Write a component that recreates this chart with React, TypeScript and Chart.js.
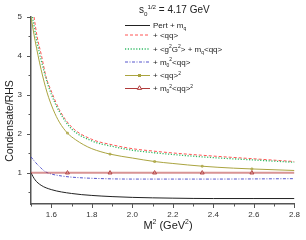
import React, { useEffect, useRef } from 'react';
import { Chart, registerables } from 'chart.js';
Chart.register(...registerables);

const FONT = '"Liberation Sans", Arial, sans-serif';

// M^2 (GeV^2) samples and Condensate/RHS values
const pertM2 = [1.5, 1.52, 1.55, 1.6, 1.7, 1.8, 1.9, 2.0, 2.2, 2.4, 2.6, 2.8];
const pertVals = [1.0, 0.82, 0.68, 0.57, 0.47, 0.42, 0.39, 0.37, 0.35, 0.34, 0.34, 0.34];

const qqM2 = [1.515, 1.53, 1.55, 1.575, 1.6, 1.64, 1.7, 1.8, 1.9, 2.0, 2.1, 2.2, 2.4, 2.6, 2.8];
const qqVals = [5.0, 4.5, 4.05, 3.45, 3.1, 2.62, 2.18, 1.86, 1.72, 1.62, 1.56, 1.51, 1.43, 1.36, 1.29];

const ggM2 = [1.507, 1.53, 1.57, 1.6, 1.64, 1.7, 1.8, 1.9, 2.0, 2.1, 2.2, 2.4, 2.6, 2.8];
const ggVals = [5.0, 4.35, 3.5, 3.02, 2.57, 2.13, 1.82, 1.68, 1.58, 1.52, 1.47, 1.39, 1.33, 1.27];

const m0qqM2 = [1.5, 1.52, 1.55, 1.57, 1.6, 1.65, 1.7, 1.8, 2.0, 2.4, 2.8];
const m0qqVals = [1.41, 1.28, 1.12, 1.03, 0.97, 0.92, 0.89, 0.86, 0.84, 0.84, 0.85];

const qq2M2 = [1.5, 1.52, 1.55, 1.58, 1.61, 1.64, 1.68, 1.72, 1.76, 1.8, 1.89, 2.0, 2.11, 2.2, 2.345, 2.5, 2.59, 2.8];
const qq2Vals = [5.0, 4.4, 3.65, 3.05, 2.62, 2.3, 2.02, 1.85, 1.72, 1.62, 1.48, 1.38, 1.29, 1.24, 1.17, 1.12, 1.1, 1.06];

const m0qq2M2 = [1.5, 1.68, 1.89, 2.11, 2.345, 2.59, 2.8];
const m0qq2Vals = [1.0, 1.0, 1.0, 1.0, 1.0, 1.0, 1.0];

const markerM2 = [1.68, 1.89, 2.11, 2.345, 2.59];

const xTickLabels = [1.6, 1.8, 2.0, 2.2, 2.4, 2.6, 2.8];
const yTickLabels = [1, 2, 3, 4, 5];

type Part = { t: string; k?: 'sub' | 'sup' };

const legendItems: { parts: Part[]; color: string; dash: number[]; width: number; marker?: 'rect' | 'tri' }[] = [
  { parts: [{ t: 'Pert + m' }, { t: 'q', k: 'sub' }], color: '#222', dash: [], width: 1 },
  { parts: [{ t: '+ <qq>' }], color: '#ff5555', dash: [3, 2], width: 1 },
  { parts: [{ t: '+ <g' }, { t: '2', k: 'sup' }, { t: 'G' }, { t: '2', k: 'sup' }, { t: '> + m' }, { t: 'q', k: 'sub' }, { t: '<qq>' }], color: '#33bb66', dash: [1.2, 1.6], width: 1.3 },
  { parts: [{ t: '+ m' }, { t: '0', k: 'sub' }, { t: '2', k: 'sup' }, { t: '<qq>' }], color: '#5555cc', dash: [3, 1.5, 1, 1.5], width: 1 },
  { parts: [{ t: '+ <qq>' }, { t: '2', k: 'sup' }], color: '#aaa440', dash: [], width: 1, marker: 'rect' },
  { parts: [{ t: '+ m' }, { t: '0', k: 'sub' }, { t: '2', k: 'sup' }, { t: '<qq>' }, { t: '2', k: 'sup' }], color: '#b03a3a', dash: [], width: 1, marker: 'tri' },
];
const legendRowsY = [25, 34.5, 48.5, 61.5, 75, 88];

function drawRich(ctx: CanvasRenderingContext2D, x: number, y: number, parts: Part[], size: number) {
  for (const p of parts) {
    const s = p.k ? size * 0.62 : size;
    const dy = p.k === 'sup' ? -size * 0.42 : p.k === 'sub' ? size * 0.28 : 0;
    ctx.font = `${s}px ${FONT}`;
    ctx.fillText(p.t, x, y + dy);
    x += ctx.measureText(p.t).width;
  }
  return x;
}
function richWidth(ctx: CanvasRenderingContext2D, parts: Part[], size: number) {
  let w = 0;
  for (const p of parts) {
    const s = p.k ? size * 0.62 : size;
    ctx.font = `${s}px ${FONT}`;
    w += ctx.measureText(p.t).width;
  }
  return w;
}

function drawTri(ctx: CanvasRenderingContext2D, x: number, y: number, r: number) {
  ctx.beginPath();
  ctx.moveTo(x, y - r);
  ctx.lineTo(x + r * 0.95, y + r * 0.6);
  ctx.lineTo(x - r * 0.95, y + r * 0.6);
  ctx.closePath();
  ctx.fill();
  ctx.stroke();
}

const decorPlugin = {
  id: 'decor',
  afterDraw(chart: any) {
    const ctx: CanvasRenderingContext2D = chart.ctx;
    const xs = chart.scales.x;
    const ys = chart.scales.y;
    const area = chart.chartArea;
    ctx.save();
    // ticks
    ctx.strokeStyle = '#555';
    ctx.lineWidth = 1;
    for (let i = 15; i <= 28; i++) {
      const v = i / 10;
      const px = Math.round(xs.getPixelForValue(v)) + 0.5;
      const len = i % 2 === 0 ? 4 : 2.5;
      ctx.beginPath();
      ctx.moveTo(px, area.bottom);
      ctx.lineTo(px, area.bottom + len);
      ctx.stroke();
    }
    for (let i = 1; i <= 10; i++) {
      const v = i / 2;
      const py = Math.round(ys.getPixelForValue(v)) + 0.5;
      const len = i % 2 === 0 ? 4 : 2.5;
      ctx.beginPath();
      ctx.moveTo(area.left, py);
      ctx.lineTo(area.left - len, py);
      ctx.stroke();
    }
    ctx.fillStyle = '#222';
    ctx.textBaseline = 'alphabetic';
    ctx.textAlign = 'left';
    // title
    drawRich(ctx, 139, 13, [{ t: 's' }, { t: '0', k: 'sub' }, { t: '1/2', k: 'sup' }, { t: ' = 4.17 GeV' }], 10);
    // x title
    const xt: Part[] = [{ t: 'M' }, { t: '2', k: 'sup' }, { t: ' (GeV' }, { t: '2', k: 'sup' }, { t: ')' }];
    const xw = richWidth(ctx, xt, 11);
    drawRich(ctx, 168 - xw / 2, 229, xt, 11);
    // y title
    ctx.save();
    ctx.translate(13, 121);
    ctx.rotate(-Math.PI / 2);
    ctx.font = `10.5px ${FONT}`;
    ctx.textAlign = 'center';
    ctx.fillText('Condensate/RHS', 0, 0);
    ctx.restore();
    // legend
    legendItems.forEach((it, i) => {
      const y = legendRowsY[i];
      ctx.save();
      ctx.strokeStyle = it.color;
      ctx.lineWidth = it.width;
      ctx.setLineDash(it.dash);
      ctx.beginPath();
      ctx.moveTo(125, y + 0.5);
      ctx.lineTo(150, y + 0.5);
      ctx.stroke();
      ctx.setLineDash([]);
      if (it.marker === 'rect') {
        ctx.strokeRect(138.5, y - 0.5, 2, 2);
      } else if (it.marker === 'tri') {
        ctx.fillStyle = '#fff';
        drawTri(ctx, 139.5, y, 2.3);
      }
      ctx.restore();
      ctx.fillStyle = '#222';
      drawRich(ctx, 153, y + 3, it.parts, 8);
    });
    ctx.restore();
  },
};

const pts = (xs: number[], ys: number[]) => xs.map((x, i) => ({ x, y: ys[i] }));

export default function App() {
  const ref = useRef<HTMLCanvasElement>(null);
  useEffect(() => {
    if (!ref.current) return;
    const isMarker = (c: any) => !!(c.raw && markerM2.includes(c.raw.x));
    const chart = new Chart(ref.current, {
      type: 'line',
      data: {
        datasets: [
          {
            label: '+ m0^2<qq>^2',
            data: pts(m0qq2M2, m0qq2Vals),
            borderColor: 'rgba(185,60,60,0.55)',
            borderWidth: 2,
            pointStyle: 'triangle',
            pointRadius: (c: any) => (isMarker(c) ? 2.3 : 0),
            pointBorderColor: '#b03a3a',
            pointBackgroundColor: 'rgba(255,255,255,0)',
            pointBorderWidth: 0.9,
          },
          {
            label: 'Pert + mq',
            data: pts(pertM2, pertVals),
            borderColor: '#222',
            borderWidth: 1,
            pointRadius: 0,
          },
          {
            label: '+ m0^2<qq>',
            data: pts(m0qqM2, m0qqVals),
            borderColor: '#5555cc',
            borderWidth: 1,
            borderDash: [3, 1.5, 1, 1.5],
            pointRadius: 0,
          },
          {
            label: '+ <qq>^2',
            data: pts(qq2M2, qq2Vals),
            borderColor: '#aaa440',
            borderWidth: 1,
            pointStyle: 'rect',
            pointRadius: (c: any) => (isMarker(c) ? 1.2 : 0),
            pointBorderColor: '#aaa440',
            pointBackgroundColor: 'rgba(255,255,255,0)',
            pointBorderWidth: 0.9,
          },
          {
            label: '+ <g2G2> + mq<qq>',
            data: pts(ggM2, ggVals),
            borderColor: '#33bb66',
            borderWidth: 1.3,
            borderDash: [1.2, 1.6],
            pointRadius: 0,
          },
          {
            label: '+ <qq>',
            data: pts(qqM2, qqVals),
            borderColor: '#ff5555',
            borderWidth: 1,
            borderDash: [3, 2],
            pointRadius: 0,
          },
        ],
      },
      options: {
        animation: false,
        responsive: false,
        maintainAspectRatio: false,
        layout: { padding: { top: 17, right: 8, left: 0, bottom: 0 } },
        elements: { line: { cubicInterpolationMode: 'monotone' } },
        plugins: { legend: { display: false }, tooltip: { enabled: false }, title: { display: false } },
        scales: {
          x: {
            type: 'linear',
            min: 1.5,
            max: 2.8,
            grid: { display: false, drawTicks: false },
            border: { display: true, color: '#555', width: 1.5 },
            afterBuildTicks: (s: any) => {
              s.ticks = xTickLabels.map((v) => ({ value: v }));
            },
            afterFit: (s: any) => {
              s.height = 36;
            },
            ticks: {
              padding: 6,
              maxRotation: 0,
              autoSkip: false,
              color: '#333',
              font: { size: 8, family: FONT },
              callback: (v: any) => Number(v).toFixed(1),
            },
          },
          y: {
            type: 'linear',
            min: 0.2,
            max: 5,
            grid: { display: false, drawTicks: false },
            border: { display: true, color: '#555', width: 1.5 },
            afterBuildTicks: (s: any) => {
              s.ticks = yTickLabels.map((v) => ({ value: v }));
            },
            afterFit: (s: any) => {
              s.width = 31;
            },
            ticks: {
              padding: 9,
              autoSkip: false,
              color: '#333',
              font: { size: 8, family: FONT },
              callback: (v: any) => String(v),
            },
          },
        },
      },
      plugins: [decorPlugin],
    } as any);
    return () => chart.destroy();
  }, []);
  return (
    <div style={{ position: 'absolute', left: 0, top: 0, width: 306, height: 240, background: '#fff' }}>
      <canvas ref={ref} width={306} height={240} style={{ display: 'block' }} />
    </div>
  );
}
